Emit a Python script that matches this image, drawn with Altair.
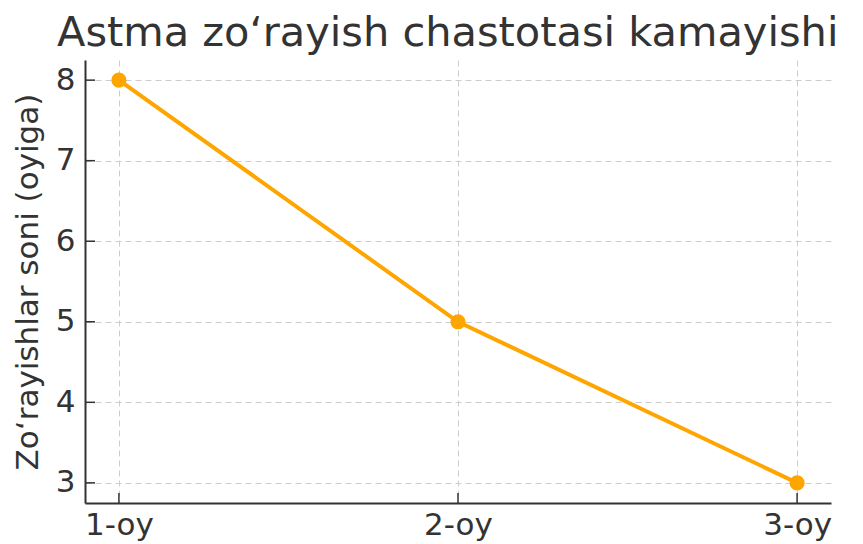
import altair as alt
import pandas as pd

months = ["1-oy", "2-oy", "3-oy"]
values = [8, 5, 3]
y_ticks = [3, 4, 5, 6, 7, 8]

df = pd.DataFrame({"month": months, "value": values})
ticks_df = pd.DataFrame({"t": y_ticks})

W, H = 746, 443
FONT = "DejaVu Sans"
ORANGE = "#FFA500"
DARK = "#333333"
YTITLE = "Zo‘rayishlar soni (oyiga)"

xscale = alt.Scale(type="point", padding=0.1, domain=months)
yscale = alt.Scale(domain=[2.75, 8.25], nice=False, zero=False)

xaxis = alt.Axis(title=None, ticks=False, labelPadding=31, labelBaseline="alphabetic",
                 labelFontSize=31, labelAngle=0, grid=True)
yaxis = alt.Axis(title=YTITLE, values=y_ticks, ticks=False, labelPadding=10,
                 labelFontSize=31, titleFontSize=31, titlePadding=11, grid=True)

base = alt.Chart(df)

line = base.mark_line(color=ORANGE, strokeWidth=4).encode(
    x=alt.X("month:N", scale=xscale, sort=months, axis=xaxis),
    y=alt.Y("value:Q", scale=yscale, axis=yaxis),
)
pts = base.mark_circle(color=ORANGE, size=230, opacity=1).encode(
    x=alt.X("month:N", scale=xscale, sort=months, axis=xaxis),
    y=alt.Y("value:Q", scale=yscale, axis=yaxis),
)
ytick_marks = alt.Chart(ticks_df).mark_rule(color=DARK, strokeWidth=1.5).encode(
    y=alt.Y("t:Q", scale=yscale, axis=yaxis),
    x=alt.value(0), x2=alt.value(10),
)
xtick_marks = base.mark_rule(color=DARK, strokeWidth=1.5).encode(
    x=alt.X("month:N", scale=xscale, sort=months, axis=xaxis),
    y=alt.value(H - 10), y2=alt.value(H),
)

chart = alt.layer(line, pts, ytick_marks, xtick_marks).properties(
    width=W, height=H,
    title=alt.TitleParams("Astma zo‘rayish chastotasi kamayishi", anchor="start",
                          frame="group", dx=-28, offset=6, fontSize=41.5,
                          font=FONT, fontWeight="normal", color=DARK),
    autosize=alt.AutoSizeParams(type="none"),
    padding={"left": 77, "top": 52, "right": 24, "bottom": 41},
).configure_view(stroke=None).configure_axis(
    labelFont=FONT, titleFont=FONT, labelColor=DARK, titleColor=DARK,
    titleFontWeight="normal", domainColor=DARK, domainWidth=2,
    gridColor="#cccccc", gridDash=[6, 4], gridWidth=1,
)

chart.save("out.html", embed_options={"renderer": "svg", "actions": False})
